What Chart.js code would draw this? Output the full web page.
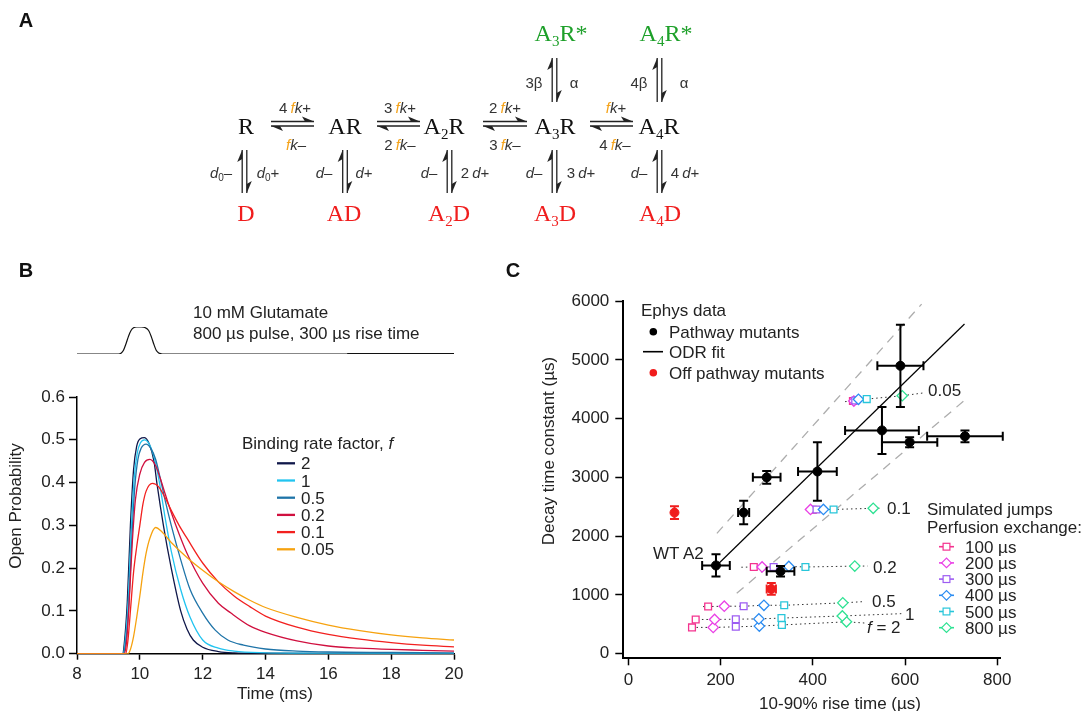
<!DOCTYPE html>
<html>
<head>
<meta charset="utf-8">
<script src="https://cdn.jsdelivr.net/npm/chart.js@4.4.0/dist/chart.umd.min.js"></script>
<style>
  body { margin: 0; background: #fff; }
  #fig { position: relative; width: 1082px; height: 711px; overflow: hidden;
         font-family: "Liberation Sans", Arial, sans-serif; color: #222; }
  #fig canvas, #fig svg { position: absolute; }
  .c { position: absolute; white-space: nowrap; transform: translate(-50%, -50%); line-height: 1; }
  .lf { position: absolute; white-space: nowrap; transform: translateY(-50%); line-height: 1; }
  .sp { font-family: "Liberation Serif", "Times New Roman", serif; font-size: 24px; color: #111; }
  .sp sub { font-size: 15px; vertical-align: -5px; line-height: 0; }
  .rate { font-size: 15px; color: #333; }
  .rate .f { color: #f5a31a; font-style: italic; }
  .rate sub { font-size: 10px; vertical-align: -3px; line-height: 0; }
  .red { color: #f01d1d; }
  .green { color: #1ea02a; }
  .panel { font-weight: bold; font-size: 20px; color: #111; }
  .lab { font-size: 17px; }
</style>
</head>
<body>
<div id="fig">
  <canvas id="stim" width="382" height="34" style="left:75px;top:323px"></canvas>
  <canvas id="chartB" width="470" height="311" style="left:0px;top:380px"></canvas>
  <canvas id="chartC" width="562" height="426" style="left:520px;top:285px"></canvas>
  <svg id="ann" width="1082" height="711" style="left:0;top:0"></svg>
</div>
<script>
// ---------------- panel B: simulated jumps ----------------
const timeTicksB = [8, 10, 12, 14, 16, 18, 20];
const probTicksB = [0, 0.1, 0.2, 0.3, 0.4, 0.5, 0.6];
const rateFactors = ['2', '1', '0.5', '0.2', '0.1', '0.05'];
const rateColors = ['#10184a', '#22c4f0', '#1f74a8', '#d0103f', '#f2201f', '#f6a20f'];

// glutamate pulse (arbitrary units)
const stimTime = [8, 9.32, 9.4, 9.48, 9.56, 9.64, 9.72, 9.8, 9.9, 10.04, 10.18, 10.28, 10.36, 10.44, 10.52, 10.6, 10.68, 10.76, 20];
const stimLevel = [0, 0, 0.03, 0.14, 0.38, 0.66, 0.87, 0.97, 1, 1, 0.97, 0.87, 0.66, 0.38, 0.14, 0.04, 0.01, 0, 0];
const stimTailTime = [16.6, 20];
const stimTailLevel = [0, 0];

const timeF2 = [8, 9.45, 9.5, 9.6, 9.7, 9.8, 9.9, 10.0, 10.15, 10.3, 10.45, 10.55, 10.75, 11.0, 11.3, 11.5, 11.7, 12.0, 12.5, 13.0, 14.0, 20];
const openF2 = [0, 0, 0.02, 0.12, 0.3, 0.43, 0.485, 0.502, 0.505, 0.49, 0.45, 0.395, 0.3, 0.2, 0.1, 0.058, 0.032, 0.015, 0.005, 0.002, 0.001, 0];
const timeF1 = [8, 9.47, 9.52, 9.62, 9.72, 9.82, 9.92, 10.02, 10.15, 10.3, 10.45, 10.6, 10.8, 11.0, 11.3, 11.6, 12.0, 12.5, 13.0, 14.0, 15.0, 20];
const openF1 = [0, 0, 0.02, 0.11, 0.28, 0.41, 0.47, 0.493, 0.5, 0.49, 0.46, 0.41, 0.32, 0.24, 0.15, 0.085, 0.032, 0.013, 0.006, 0.002, 0.001, 0];
const timeF05 = [8, 9.48, 9.54, 9.64, 9.74, 9.84, 9.94, 10.04, 10.2, 10.35, 10.5, 10.65, 10.8, 11.0, 11.3, 11.6, 12.0, 12.4, 12.8, 13.3, 14, 15, 16, 18, 20];
const openF05 = [0, 0, 0.02, 0.1, 0.26, 0.39, 0.455, 0.48, 0.49, 0.48, 0.455, 0.41, 0.36, 0.3, 0.22, 0.15, 0.095, 0.055, 0.032, 0.02, 0.011, 0.006, 0.004, 0.003, 0.002];
const timeF02 = [8, 9.5, 9.58, 9.66, 9.76, 9.86, 10.0, 10.15, 10.32, 10.5, 10.65, 10.8, 11.0, 11.25, 11.5, 12.0, 12.5, 12.9, 13.5, 14, 15, 16, 17, 18, 19, 20];
const openF02 = [0, 0, 0.03, 0.12, 0.26, 0.36, 0.42, 0.447, 0.454, 0.44, 0.41, 0.375, 0.33, 0.28, 0.235, 0.165, 0.118, 0.095, 0.065, 0.05, 0.03, 0.018, 0.013, 0.01, 0.008, 0.006];
const timeF01 = [8, 9.55, 9.62, 9.7, 9.8, 9.9, 10.0, 10.1, 10.2, 10.4, 10.6, 10.8, 11.0, 11.25, 11.5, 12.0, 12.5, 13.0, 13.5, 14, 15, 16, 17, 18, 19, 20];
const openF01 = [0, 0, 0.03, 0.1, 0.19, 0.25, 0.3, 0.35, 0.38, 0.398, 0.39, 0.365, 0.335, 0.3, 0.27, 0.212, 0.168, 0.135, 0.11, 0.088, 0.062, 0.045, 0.034, 0.026, 0.02, 0.016];
const timeF005 = [8, 9.62, 9.7, 9.8, 9.9, 10.0, 10.1, 10.2, 10.32, 10.5, 10.7, 11.0, 11.5, 12, 12.5, 13, 13.5, 14, 15, 16, 17, 18, 19, 20];
const openF005 = [0, 0, 0.01, 0.04, 0.085, 0.135, 0.19, 0.235, 0.27, 0.295, 0.285, 0.26, 0.225, 0.195, 0.168, 0.145, 0.125, 0.108, 0.085, 0.067, 0.054, 0.044, 0.037, 0.032];

// ---------------- panel C: rise vs decay ----------------
const riseTicksC = [0, 200, 400, 600, 800];
const decayTicksC = [0, 1000, 2000, 3000, 4000, 5000, 6000];

const pathRise = [190, 250, 300, 410, 330, 590, 550, 610, 730];
const pathDecay = [1500, 2400, 3000, 3100, 1400, 4900, 3800, 3600, 3700];
const pathRiseErr = [30, 12, 30, 42, 30, 50, 80, 60, 82];
const pathDecayErr = [190, 200, 110, 500, 90, 700, 400, 85, 100];

const offRise = [100, 310];
const offDecay = [2400, 1100];
const offRiseErr = [0, 10];
const offDecayErr = [110, 100];

const odrRise = [192, 729];
const odrDecay = [1503, 5612];
const bandUpperRise = [192, 636];
const bandUpperDecay = [2047, 5951];
const bandLowerRise = [235, 733];
const bandLowerDecay = [1027, 4338];

// simulated jumps, values for f = 2, 1, 0.5, 0.2, 0.1, 0.05
const perfusionLabels = ['100 µs', '200 µs', '300 µs', '400 µs', '500 µs', '800 µs'];
const perfusionColors = ['#f4338f', '#ea40e6', '#9d5cf2', '#2b8cf2', '#28c6da', '#2ee293'];
const rise100 = [138, 146, 173, 272, 400, 487];
const decay100 = [445, 580, 800, 1474, 2450, 4300];
const rise200 = [184, 187, 208, 290, 395, 489];
const decay200 = [445, 580, 806, 1474, 2454, 4300];
const rise300 = [233, 233, 250, 315, 408, 492];
const decay300 = [455, 585, 806, 1474, 2454, 4310];
const rise400 = [284, 283, 294, 348, 423, 499];
const decay400 = [467, 590, 822, 1483, 2454, 4330];
const rise500 = [333, 332, 338, 384, 445, 517];
const decay500 = [487, 604, 822, 1474, 2454, 4333];
const rise800 = [473, 464, 465, 491, 531, 594];
const decay800 = [540, 640, 863, 1489, 2473, 4390];

// dotted guide rows (one per f), start and end of each row
const rowStartRise = [138, 140, 162, 245, 395, 470];
const rowStartDecay = [445, 575, 800, 1470, 2454, 4290];
const rowEndRise = [512, 595, 512, 519, 551, 642];
const rowEndDecay = [520, 680, 885, 1490, 2475, 4440];

// -----------------------------------------------------------
Chart.defaults.font.family = '"Liberation Sans", Arial, sans-serif';
Chart.defaults.color = '#222';

const toXY = (xs, ys) => xs.map((x, i) => ({ x: x, y: ys[i] }));

// stimulus trace
new Chart(document.getElementById('stim'), {
    type: 'line',
    data: {
        datasets: [
            { data: toXY(stimTime, stimLevel), borderColor: '#111', borderWidth: 1.2,
              cubicInterpolationMode: 'monotone', pointRadius: 0 },
            { data: toXY(stimTailTime, stimTailLevel), borderColor: '#111', borderWidth: 2.2, pointRadius: 0 }
        ]
    },
    options: {
        responsive: false, animation: false,
        layout: { padding: { left: 2, right: 3, top: 4, bottom: 3 } },
        plugins: { legend: { display: false }, tooltip: { enabled: false } },
        scales: {
            x: { type: 'linear', min: 8, max: 20, display: false },
            y: { min: 0, max: 1, display: false }
        }
    }
});

const curvesB = [[timeF2, openF2], [timeF1, openF1], [timeF05, openF05],
                 [timeF02, openF02], [timeF01, openF01], [timeF005, openF005]];

new Chart(document.getElementById('chartB'), {
    type: 'line',
    data: {
        datasets: curvesB.map((c, i) => ({
            label: rateFactors[i],
            data: toXY(c[0], c[1]),
            borderColor: rateColors[i],
            borderWidth: 1.3,
            cubicInterpolationMode: 'monotone',
            pointRadius: 0
        })).reverse()
    },
    options: {
        responsive: false, animation: false,
        layout: { padding: { left: 0, right: 16, top: 17, bottom: 0 } },
        plugins: { legend: { display: false }, tooltip: { enabled: false } },
        scales: {
            x: {
                type: 'linear', min: 8, max: 20,
                afterBuildTicks: s => { s.ticks = timeTicksB.map(v => ({ value: v })); },
                afterFit: s => { s.height = 37.3; },
                ticks: { font: { size: 17 }, padding: 4, maxRotation: 0 },
                grid: { drawOnChartArea: false, tickLength: 6, color: '#000', tickWidth: 1.5 },
                border: { color: '#000', width: 1.5 }
            },
            y: {
                min: 0, max: 0.6,
                afterBuildTicks: s => { s.ticks = probTicksB.map(v => ({ value: v })); },
                afterFit: s => { s.width = 77; },
                ticks: { font: { size: 17 }, padding: 4, callback: v => v.toFixed(1) },
                grid: { drawOnChartArea: false, tickLength: 8, color: '#000', tickWidth: 1.5 },
                border: { color: '#000', width: 1.5 }
            }
        }
    }
});

// error bars drawn through the chart scales
const errorBars = {
    id: 'errorBars',
    afterDatasetsDraw(chart) {
        const { ctx, scales: { x, y } } = chart;
        const cap = 4.5;
        const draw = (xs, ys, xe, ye, color) => {
            ctx.save();
            ctx.strokeStyle = color;
            ctx.lineWidth = 2;
            xs.forEach((v, i) => {
                const px = x.getPixelForValue(v), py = y.getPixelForValue(ys[i]);
                if (xe[i] > 0) {
                    const a = x.getPixelForValue(v - xe[i]), b = x.getPixelForValue(v + xe[i]);
                    ctx.beginPath();
                    ctx.moveTo(a, py); ctx.lineTo(b, py);
                    ctx.moveTo(a, py - cap); ctx.lineTo(a, py + cap);
                    ctx.moveTo(b, py - cap); ctx.lineTo(b, py + cap);
                    ctx.stroke();
                }
                if (ye[i] > 0) {
                    const a = y.getPixelForValue(ys[i] - ye[i]), b = y.getPixelForValue(ys[i] + ye[i]);
                    ctx.beginPath();
                    ctx.moveTo(px, a); ctx.lineTo(px, b);
                    ctx.moveTo(px - cap, a); ctx.lineTo(px + cap, a);
                    ctx.moveTo(px - cap, b); ctx.lineTo(px + cap, b);
                    ctx.stroke();
                }
            });
            ctx.restore();
        };
        draw(pathRise, pathDecay, pathRiseErr, pathDecayErr, '#000');
        draw(offRise, offDecay, offRiseErr, offDecayErr, '#f01d1d');
    }
};

const simRise = [rise100, rise200, rise300, rise400, rise500, rise800];
const simDecay = [decay100, decay200, decay300, decay400, decay500, decay800];

const rowSets = rateFactors.map((f, k) => {
    const pts = simRise.map((r, j) => ({ x: r[k], y: simDecay[j][k] })).sort((a, b) => a.x - b.x);
    return {
        data: [{ x: rowStartRise[k], y: rowStartDecay[k] }, ...pts, { x: rowEndRise[k], y: rowEndDecay[k] }],
        showLine: true, borderColor: '#333', borderWidth: 1, borderDash: [1.5, 3], pointRadius: 0, clip: false
    };
});

const simSets = perfusionLabels.map((lab, j) => ({
    label: lab,
    data: toXY(simRise[j], simDecay[j]),
    pointStyle: j % 2 === 0 ? 'rect' : 'rectRot',
    pointRadius: j % 2 === 0 ? 4.8 : 5.2,
    pointBorderColor: perfusionColors[j],
    pointBackgroundColor: '#fff',
    pointBorderWidth: 1.3,
    showLine: false, clip: false
})).reverse();

new Chart(document.getElementById('chartC'), {
    type: 'scatter',
    data: {
        datasets: [
            { label: 'Pathway mutants', data: toXY(pathRise, pathDecay), pointRadius: 4.5,
              pointBackgroundColor: '#000', pointBorderColor: '#000', clip: false },
            { label: 'Off pathway mutants', data: toXY(offRise, offDecay), pointRadius: 4.5,
              pointBackgroundColor: '#f01d1d', pointBorderColor: '#f01d1d', clip: false },
            ...simSets,
            { label: 'ODR fit', data: toXY(odrRise, odrDecay), showLine: true, borderColor: '#000',
              borderWidth: 1.2, pointRadius: 0, clip: false },
            { data: toXY(bandUpperRise, bandUpperDecay), showLine: true, borderColor: '#adadad',
              borderWidth: 1.3, borderDash: [9, 7], pointRadius: 0, clip: false },
            { data: toXY(bandLowerRise, bandLowerDecay), showLine: true, borderColor: '#adadad',
              borderWidth: 1.3, borderDash: [9, 7], pointRadius: 0, clip: false },
            ...rowSets
        ]
    },
    options: {
        responsive: false, animation: false,
        layout: { padding: { left: 0, right: 82, top: 15, bottom: 0 } },
        plugins: { legend: { display: false }, tooltip: { enabled: false } },
        scales: {
            x: {
                type: 'linear', min: -11, max: 806,
                afterBuildTicks: s => { s.ticks = riseTicksC.map(v => ({ value: v })); },
                afterFit: s => { s.height = 52.7; },
                ticks: { font: { size: 17 }, padding: 5, maxRotation: 0, callback: v => String(v) },
                grid: { drawOnChartArea: false, tickLength: 7, color: '#000', tickWidth: 1.5 },
                border: { color: '#000', width: 2 }
            },
            y: {
                type: 'linear', min: -81, max: 6000,
                afterBuildTicks: s => { s.ticks = decayTicksC.map(v => ({ value: v })); },
                afterFit: s => { s.width = 103.3; },
                ticks: { font: { size: 17 }, padding: 6, callback: v => String(v) },
                grid: { drawOnChartArea: false, tickLength: 8, color: '#000', tickWidth: 1.5 },
                border: { color: '#000', width: 2 }
            }
        }
    },
    plugins: [errorBars]
});

// ---------------- text and scheme ----------------
const fig = document.getElementById('fig');
function txt(x, y, html, cls) {
    const d = document.createElement('div');
    d.className = cls;
    d.style.left = x + 'px';
    d.style.top = y + 'px';
    d.innerHTML = html;
    fig.appendChild(d);
    return d;
}

txt(26, 20, 'A', 'c panel');
txt(26, 270, 'B', 'c panel');
txt(513, 270, 'C', 'c panel');

// kinetic scheme
txt(246, 126, 'R', 'c sp');
txt(345, 126, 'AR', 'c sp');
txt(444, 126, 'A<sub>2</sub>R', 'c sp');
txt(555, 126, 'A<sub>3</sub>R', 'c sp');
txt(659, 126, 'A<sub>4</sub>R', 'c sp');
txt(561, 33, 'A<sub>3</sub>R*', 'c sp green');
txt(666, 33, 'A<sub>4</sub>R*', 'c sp green');
txt(246, 213, 'D', 'c sp red');
txt(344, 213, 'AD', 'c sp red');
txt(449, 213, 'A<sub>2</sub>D', 'c sp red');
txt(555, 213, 'A<sub>3</sub>D', 'c sp red');
txt(660, 213, 'A<sub>4</sub>D', 'c sp red');

const fk = (n, s) => (n ? n + '&#8201;' : '') + '<span class="f">f</span><i>k</i>' + s;
txt(295, 107, fk('4', '+'), 'c rate');
txt(296, 144, fk('', '–'), 'c rate');
txt(400, 107, fk('3', '+'), 'c rate');
txt(400, 144, fk('2', '–'), 'c rate');
txt(505, 107, fk('2', '+'), 'c rate');
txt(505, 144, fk('3', '–'), 'c rate');
txt(616, 107, fk('', '+'), 'c rate');
txt(615, 144, fk('4', '–'), 'c rate');

txt(221, 172, '<i>d</i><sub>0</sub>–', 'c rate');
txt(268, 172, '<i>d</i><sub>0</sub>+', 'c rate');
txt(324, 172, '<i>d</i>–', 'c rate');
txt(364, 172, '<i>d</i>+', 'c rate');
txt(429, 172, '<i>d</i>–', 'c rate');
txt(475, 172, '2&#8201;<i>d</i>+', 'c rate');
txt(534, 172, '<i>d</i>–', 'c rate');
txt(581, 172, '3&#8201;<i>d</i>+', 'c rate');
txt(639, 172, '<i>d</i>–', 'c rate');
txt(685, 172, '4&#8201;<i>d</i>+', 'c rate');
txt(534, 82, '3β', 'c rate');
txt(574, 82, 'α', 'c rate');
txt(639, 82, '4β', 'c rate');
txt(684, 82, 'α', 'c rate');

const svg = document.getElementById('ann');
const NS = 'http://www.w3.org/2000/svg';
function el(tag, attrs) {
    const e = document.createElementNS(NS, tag);
    for (const k in attrs) e.setAttribute(k, attrs[k]);
    svg.appendChild(e);
    return e;
}
function hArrow(x1, x2) {
    const y1 = 121.5, y2 = 126;
    el('path', { d: `M${x1} ${y1}H${x2}M${x1} ${y2}H${x2}`, stroke: '#222', 'stroke-width': 1.3, fill: 'none' });
    el('path', { d: `M${x2} ${y1}L${x2 - 12} ${y1 - 5}L${x2 - 9} ${y1}Z`, fill: '#222' });
    el('path', { d: `M${x1} ${y2}L${x1 + 12} ${y2 + 5}L${x1 + 9} ${y2}Z`, fill: '#222' });
}
function vArrow(xc, y1, y2) {
    const xl = xc - 2.3, xr = xc + 2.3;
    el('path', { d: `M${xl} ${y1}V${y2}M${xr} ${y1}V${y2}`, stroke: '#222', 'stroke-width': 1.3, fill: 'none' });
    el('path', { d: `M${xl} ${y1}L${xl - 5} ${y1 + 12}L${xl} ${y1 + 9}Z`, fill: '#222' });
    el('path', { d: `M${xr} ${y2}L${xr + 5} ${y2 - 12}L${xr} ${y2 - 9}Z`, fill: '#222' });
}
hArrow(271, 314); hArrow(377, 420); hArrow(483, 527); hArrow(590, 633);
[244.5, 345, 449.5, 554.5, 659.5].forEach(x => vArrow(x, 150, 193));
vArrow(554.5, 58, 102); vArrow(659.5, 58, 102);

// panel B texts
txt(193, 312, '10 mM Glutamate', 'lf lab');
txt(193, 332.5, '800 µs pulse, 300 µs rise time', 'lf lab');
txt(15, 506, 'Open Probability', 'c lab').style.transform = 'translate(-50%,-50%) rotate(-90deg)';
txt(275, 693, 'Time (ms)', 'c lab');
txt(242, 443, 'Binding rate factor, <i>f</i>', 'lf lab');
rateFactors.forEach((f, i) => {
    const y = 463.3 + i * 17.2;
    el('line', { x1: 277, x2: 295, y1: y, y2: y, stroke: rateColors[i], 'stroke-width': 2.3 });
    txt(301, y, f, 'lf lab');
});

// panel C texts
txt(548, 451, 'Decay time constant (µs)', 'c lab').style.transform = 'translate(-50%,-50%) rotate(-90deg)';
txt(840, 703, '10-90% rise time (µs)', 'c lab');
txt(641, 310, 'Ephys data', 'lf lab');
el('circle', { cx: 653.3, cy: 331.7, r: 3.8, fill: '#000' });
txt(669, 331.7, 'Pathway mutants', 'lf lab');
el('line', { x1: 643, x2: 663, y1: 351.7, y2: 351.7, stroke: '#000', 'stroke-width': 1.6 });
txt(669, 351.7, 'ODR fit', 'lf lab');
el('circle', { cx: 653.3, cy: 372.7, r: 3.8, fill: '#f01d1d' });
txt(669, 372.7, 'Off pathway mutants', 'lf lab');
txt(653, 552.7, 'WT A2', 'lf lab');

txt(928, 390, '0.05', 'lf lab');
txt(887, 508.3, '0.1', 'lf lab');
txt(873, 566.7, '0.2', 'lf lab');
txt(872, 600.7, '0.5', 'lf lab');
txt(905, 614.3, '1', 'lf lab');
txt(867, 627, '<i>f</i> = 2', 'lf lab');

txt(927, 509.3, 'Simulated jumps', 'lf lab');
txt(927, 526.7, 'Perfusion exchange:', 'lf lab');
perfusionLabels.forEach((lab, j) => {
    const y = 546.7 + j * 16.2, cx = 946.5;
    el('line', { x1: 939, x2: 954, y1: y, y2: y, stroke: perfusionColors[j], 'stroke-width': 1.6 });
    if (j % 2 === 0) {
        el('rect', { x: cx - 3.4, y: y - 3.4, width: 6.8, height: 6.8, fill: '#fff', stroke: perfusionColors[j], 'stroke-width': 1.2 });
    } else {
        el('path', { d: `M${cx - 4.8} ${y}L${cx} ${y - 4.8}L${cx + 4.8} ${y}L${cx} ${y + 4.8}Z`, fill: '#fff', stroke: perfusionColors[j], 'stroke-width': 1.2 });
    }
    txt(965, y, lab, 'lf lab');
});
</script>
</body>
</html>
